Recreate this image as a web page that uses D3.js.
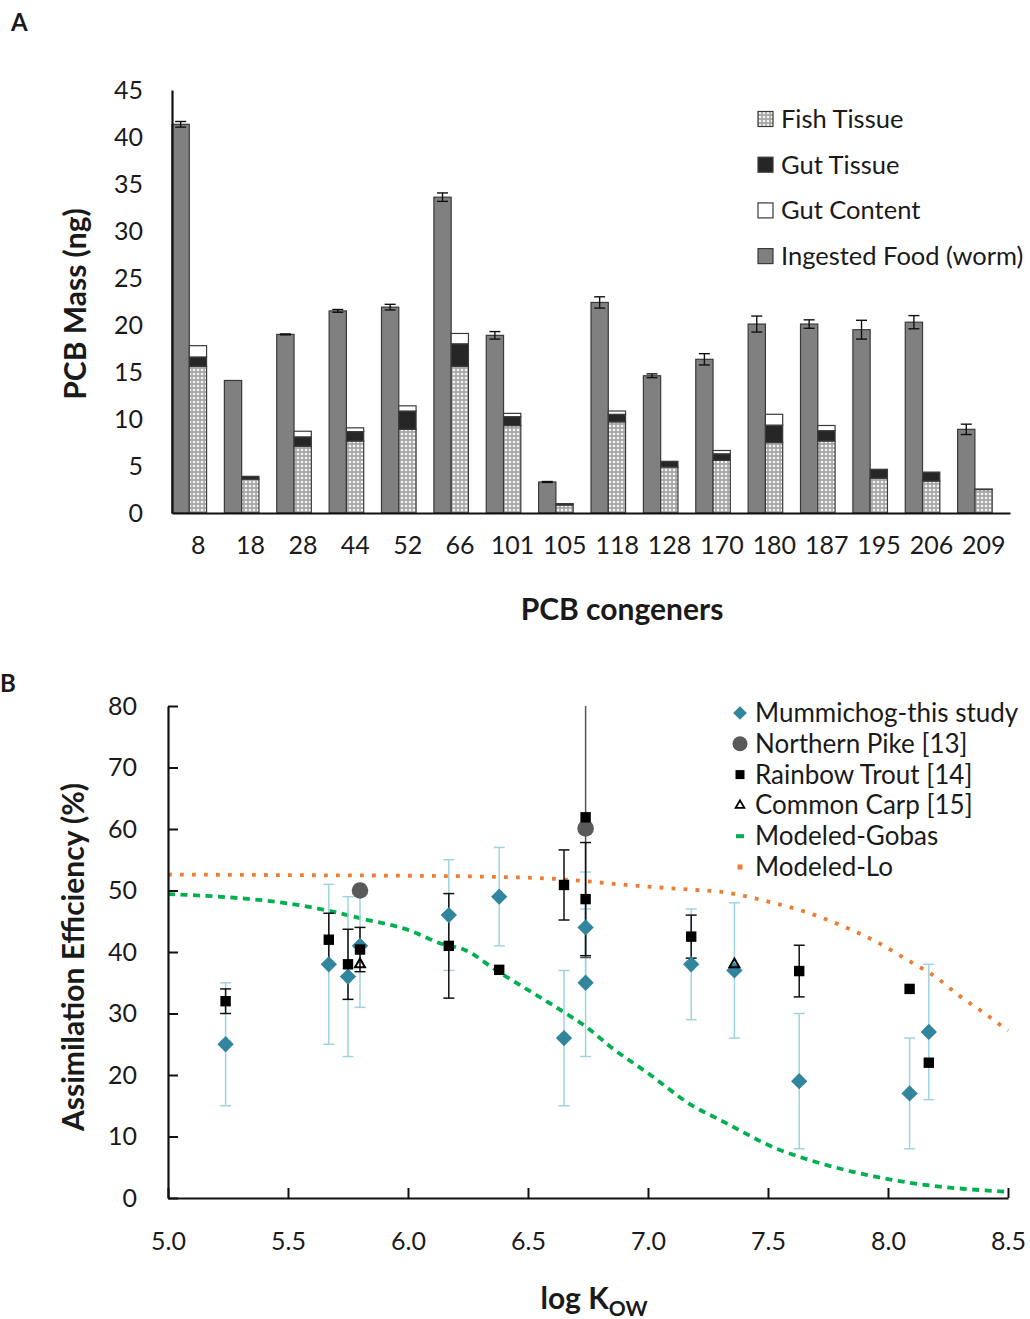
<!DOCTYPE html>
<html>
<head>
<meta charset="utf-8">
<script src="https://cdn.jsdelivr.net/npm/d3@7"></script>
<style>
  body { margin: 0; background: #fff; }
  svg text { font-family: Lato, "DejaVu Sans", sans-serif; fill: #1a1a1a; }
</style>
</head>
<body>
<svg id="fig" width="1030" height="1319"></svg>
<script>
// ---------- panel A data (PCB mass, ng) ----------
const congeners = ["8","18","28","44","52","66","101","105","118","128","170","180","187","195","206","209"];
const ingestedFood = [41.35,14.1,19.0,21.5,21.9,33.6,18.9,3.3,22.4,14.6,16.35,20.1,20.1,19.5,20.3,8.9];
const ingestedErr  = [0.3,0,0.05,0.15,0.3,0.45,0.4,0.05,0.6,0.2,0.6,0.85,0.45,1.0,0.7,0.55];
const fishTissue   = [15.6,3.6,7.1,7.66,8.9,15.6,9.3,0.85,9.7,4.9,5.6,7.5,7.66,3.7,3.4,2.5];
const gutTissue    = [1.0,0.3,1.0,1.0,1.95,2.4,0.95,0.15,0.8,0.6,0.7,1.85,1.1,0.95,0.95,0.05];
const gutContent   = [1.2,0,0.6,0.4,0.55,1.1,0.35,0,0.35,0,0.35,1.15,0.55,0,0,0];
const yTicksA = [0,5,10,15,20,25,30,35,40,45];

// ---------- panel B data (assimilation efficiency, %) ----------
const mumLogK = [5.24,5.67,5.75,5.80,6.17,6.38,6.65,6.74,6.74,7.18,7.36,7.63,8.09,8.17];
const mumAE   = [25,38,36,41,46,49,26,44,35,38,37,19,17,27];
const mumErr  = [10,13,13,10,9,8,11,9,12,9,11,11,9,11];

const troutLogK = [5.24,5.67,5.75,5.80,6.17,6.38,6.65,6.74,6.74,7.18,7.63,8.09,8.17];
const troutAE   = [32,42,38,40.4,41,37.1,50.9,61.9,48.6,42.5,36.9,34,22];
const troutErr  = [2,4.3,5.7,3.6,8.5,0,5.7,0,9.2,3.5,4.2,0,0];

const pikeLogK = [5.80,6.74];
const pikeAE   = [50,60.1];
const pikeErr  = [0,21];

const carpLogK = [5.80,7.36];
const carpAE   = [38,38];

const gobasLogK = [5.0,5.25,5.5,5.67,5.8,6.0,6.16,6.22,6.38,6.65,6.74,6.85,7.0,7.19,7.3,7.55,7.63,7.85,8.08,8.5];
const gobasAE   = [49.4,48.9,47.9,46.7,45.5,43.6,41.1,40.6,36.7,30.2,27.9,24.4,20.3,14.9,12.7,7.8,6.7,4.3,2.55,1.0];

const loLogK = [5.0,5.5,6.0,6.25,6.65,6.91,7.19,7.3,7.5,7.65,7.8,7.95,8.09,8.2,8.29,8.4,8.5];
const loAE   = [52.6,52.5,52.4,52.3,51.8,50.9,50.1,49.8,48.2,46.6,44.4,41.7,38.5,35.9,33.1,30.1,27.2];

const xTicksB = [5.0,5.5,6.0,6.5,7.0,7.5,8.0,8.5];
const yTicksB = [0,10,20,30,40,50,60,70,80];

const svg = d3.select("#fig");
const defs = svg.append("defs");

// crosshatch used for fish tissue
const pat = defs.append("pattern").attr("id", "fishHatch")
  .attr("width", 4).attr("height", 4).attr("patternUnits", "userSpaceOnUse");
pat.append("rect").attr("width", 4).attr("height", 4).attr("fill", "#a6a6a6");
pat.append("circle").attr("cx", 2).attr("cy", 2).attr("r", 1.35).attr("fill", "#f4f4f4");

// ================= PANEL A =================
svg.append("text").attr("x", 11).attr("y", 31)
  .style("font-size", "24px").style("font-weight", "bold").text("A");

const xA = d3.scaleBand().domain(congeners).range([172, 1010]);
const yA = d3.scaleLinear().domain([0, 45]).range([513, 90]);
const barW = xA.bandwidth() * 0.33;

const gA = svg.append("g");

// ingested food bars
gA.append("g").selectAll("rect")
  .data(congeners)
  .join("rect")
  .attr("x", c => xA(c))
  .attr("y", (c, i) => yA(ingestedFood[i]))
  .attr("width", barW)
  .attr("height", (c, i) => yA(0) - yA(ingestedFood[i]))
  .attr("fill", "#808080")
  .attr("stroke", "#3a3a3a").attr("stroke-width", 1.2);

// stacked fish / gut tissue / gut content
const rowsA = congeners.map((c, i) => ({ c, fish: fishTissue[i], gutT: gutTissue[i], gutC: gutContent[i] }));
const stackA = d3.stack().keys(["fish", "gutT", "gutC"])(rowsA);
const fillA = { fish: "url(#fishHatch)", gutT: "#262626", gutC: "#ffffff" };

gA.append("g").selectAll("g")
  .data(stackA)
  .join("g")
  .attr("fill", d => fillA[d.key])
  .selectAll("rect")
  .data(d => d.filter(s => s[1] - s[0] > 0.001))
  .join("rect")
  .attr("x", d => xA(d.data.c) + barW)
  .attr("y", d => yA(d[1]))
  .attr("width", barW)
  .attr("height", d => yA(d[0]) - yA(d[1]))
  .attr("stroke", "#3a3a3a").attr("stroke-width", 1.2);

// error bars on ingested food
const errA = gA.append("g").attr("stroke", "#111").attr("stroke-width", 1.4);
congeners.forEach((c, i) => {
  if (ingestedErr[i] <= 0) return;
  const cx = xA(c) + barW / 2;
  const y1 = yA(ingestedFood[i] + ingestedErr[i]);
  const y2 = yA(ingestedFood[i] - ingestedErr[i]);
  errA.append("line").attr("x1", cx).attr("x2", cx).attr("y1", y1).attr("y2", y2);
  errA.append("line").attr("x1", cx - 5.5).attr("x2", cx + 5.5).attr("y1", y1).attr("y2", y1);
  errA.append("line").attr("x1", cx - 5.5).attr("x2", cx + 5.5).attr("y1", y2).attr("y2", y2);
});

// axes A
const axYA = svg.append("g").attr("transform", "translate(172,0)")
  .call(d3.axisLeft(yA).tickValues(yTicksA).tickSize(0).tickPadding(29));
const axXA = svg.append("g").attr("transform", "translate(0,513)")
  .call(d3.axisBottom(xA).tickSize(0).tickPadding(23));
[axYA, axXA].forEach(a => {
  a.select(".domain").attr("stroke", "#111").attr("stroke-width", 2.2);
  a.selectAll("text").style("font-size", "25px").style("font-family", "Lato, sans-serif").attr("fill", "#1a1a1a");
});

svg.append("text")
  .attr("transform", "translate(86,304) rotate(-90)")
  .attr("text-anchor", "middle")
  .style("font-size", "30px").style("font-weight", "bold")
  .text("PCB Mass (ng)");
svg.append("text")
  .attr("x", 622).attr("y", 620).attr("text-anchor", "middle")
  .style("font-size", "30px").style("font-weight", "bold")
  .text("PCB congeners");

// legend A
const legA = [
  { label: "Fish Tissue", fill: "url(#fishHatch)" },
  { label: "Gut Tissue", fill: "#262626" },
  { label: "Gut Content", fill: "#ffffff" },
  { label: "Ingested Food (worm)", fill: "#808080" }
];
const gLegA = svg.append("g").selectAll("g").data(legA).join("g")
  .attr("transform", (d, i) => `translate(758,${119 + i * 45.7})`);
gLegA.append("rect").attr("x", 0).attr("y", -7.5).attr("width", 15).attr("height", 15)
  .attr("fill", d => d.fill).attr("stroke", "#3a3a3a").attr("stroke-width", 1.2);
gLegA.append("text").attr("x", 23).attr("y", 9)
  .style("font-size", "25.5px").text(d => d.label);

// ================= PANEL B =================
svg.append("text").attr("x", 0).attr("y", 692)
  .style("font-size", "24px").style("font-weight", "bold").text("B");

const xB = d3.scaleLinear().domain([5, 8.5]).range([168, 1008]);
const yB = d3.scaleLinear().domain([0, 80]).range([1198, 706]);

defs.append("clipPath").attr("id", "plotB").append("rect")
  .attr("x", 168).attr("y", 706).attr("width", 860).attr("height", 492);

const gB = svg.append("g").attr("clip-path", "url(#plotB)");

// modeled curves
const lineB = (xs, ys) => d3.line()
  .x((d, i) => xB(xs[i])).y((d, i) => yB(ys[i]))
  .curve(d3.curveMonotoneX)(xs);

gB.append("path").attr("d", lineB(gobasLogK, gobasAE))
  .attr("fill", "none").attr("stroke", "#00b050")
  .attr("stroke-width", 3.8).attr("stroke-dasharray", "7,5.5");
gB.append("path").attr("d", lineB(loLogK, loAE))
  .attr("fill", "none").attr("stroke", "#ed7d31")
  .attr("stroke-width", 3.8).attr("stroke-dasharray", "3.8,8.2");

function errorBars(g, xs, ys, es, color, width) {
  const eg = g.append("g").attr("stroke", color).attr("stroke-width", width);
  xs.forEach((x, i) => {
    if (!es[i]) return;
    const cx = xB(x), y1 = yB(ys[i] + es[i]), y2 = yB(ys[i] - es[i]);
    eg.append("line").attr("x1", cx).attr("x2", cx).attr("y1", y1).attr("y2", y2);
    eg.append("line").attr("x1", cx - 5.5).attr("x2", cx + 5.5).attr("y1", y1).attr("y2", y1);
    eg.append("line").attr("x1", cx - 5.5).attr("x2", cx + 5.5).attr("y1", y2).attr("y2", y2);
  });
}

errorBars(gB, mumLogK, mumAE, mumErr, "#9fd3e4", 1.5);
errorBars(gB, pikeLogK, pikeAE, pikeErr, "#555555", 1.5);
errorBars(gB, troutLogK, troutAE, troutErr, "#111111", 1.5);

const diamond = d3.symbol().type(d3.symbolDiamond2).size(170);
const triangle = d3.symbol().type(d3.symbolTriangle2).size(70);

// mummichog diamonds
gB.append("g").selectAll("path").data(mumLogK).join("path")
  .attr("d", diamond)
  .attr("transform", (d, i) => `translate(${xB(d)},${yB(mumAE[i])})`)
  .attr("fill", "#31859c");

// northern pike
gB.append("g").selectAll("circle").data(pikeLogK).join("circle")
  .attr("cx", d => xB(d)).attr("cy", (d, i) => yB(pikeAE[i]))
  .attr("r", 8.3).attr("fill", "#5a5a5a");

// rainbow trout
gB.append("g").selectAll("rect").data(troutLogK).join("rect")
  .attr("x", d => xB(d) - 5.2).attr("y", (d, i) => yB(troutAE[i]) - 5.2)
  .attr("width", 10.4).attr("height", 10.4).attr("fill", "#000");

// common carp
gB.append("g").selectAll("path").data(carpLogK).join("path")
  .attr("d", triangle)
  .attr("transform", (d, i) => `translate(${xB(d)},${yB(carpAE[i])})`)
  .attr("fill", "none").attr("stroke", "#000").attr("stroke-width", 2);

// axes B
const axYB = svg.append("g").attr("transform", "translate(168,0)")
  .call(d3.axisLeft(yB).tickValues(yTicksB).tickSizeInner(-10).tickSizeOuter(0).tickPadding(31));
const axXB = svg.append("g").attr("transform", "translate(0,1198)")
  .call(d3.axisBottom(xB).tickValues(xTicksB).tickFormat(d3.format(".1f"))
    .tickSizeInner(-10).tickSizeOuter(0).tickPadding(34));
[axYB, axXB].forEach(a => {
  a.select(".domain").attr("stroke", "#111").attr("stroke-width", 2.2);
  a.selectAll(".tick line").attr("stroke", "#111").attr("stroke-width", 2);
  a.selectAll("text").style("font-size", "25px").style("font-family", "Lato, sans-serif").attr("fill", "#1a1a1a");
});

svg.append("text")
  .attr("transform", "translate(84,957) rotate(-90)")
  .attr("text-anchor", "middle")
  .style("font-size", "30px").style("font-weight", "bold")
  .text("Assimilation Efficiency (%)");

const kLabel = svg.append("text").attr("x", 594).attr("y", 1309).attr("text-anchor", "middle")
  .style("font-size", "30px").style("font-weight", "bold");
kLabel.append("tspan").text("log K");
kLabel.append("tspan").attr("dy", 7).style("font-size", "21px").text("OW");

// legend B
const legB = [
  { label: "Mummichog-this study", kind: "diamond" },
  { label: "Northern Pike [13]", kind: "circle" },
  { label: "Rainbow Trout [14]", kind: "square" },
  { label: "Common Carp [15]", kind: "triangle" },
  { label: "Modeled-Gobas", kind: "gobas" },
  { label: "Modeled-Lo", kind: "lo" }
];
const gLegB = svg.append("g").selectAll("g").data(legB).join("g")
  .attr("transform", (d, i) => `translate(740,${713 + i * 30.8})`);
gLegB.each(function (d) {
  const g = d3.select(this);
  if (d.kind === "diamond") g.append("path").attr("d", d3.symbol().type(d3.symbolDiamond2).size(120)).attr("fill", "#31859c");
  if (d.kind === "circle") g.append("circle").attr("r", 7.5).attr("fill", "#5a5a5a");
  if (d.kind === "square") g.append("rect").attr("x", -4.5).attr("y", -4.5).attr("width", 9).attr("height", 9).attr("fill", "#000");
  if (d.kind === "triangle") g.append("path").attr("d", d3.symbol().type(d3.symbolTriangle2).size(55)).attr("fill", "none").attr("stroke", "#000").attr("stroke-width", 1.8);
  if (d.kind === "gobas") g.append("rect").attr("x", -4).attr("y", -2).attr("width", 8).attr("height", 4).attr("fill", "#00b050");
  if (d.kind === "lo") g.append("rect").attr("x", -2.5).attr("y", -2.5).attr("width", 5).attr("height", 5).attr("fill", "#ed7d31");
});
gLegB.append("text").attr("x", 15).attr("y", 9)
  .style("font-size", "26px").text(d => d.label);
</script>
</body>
</html>
